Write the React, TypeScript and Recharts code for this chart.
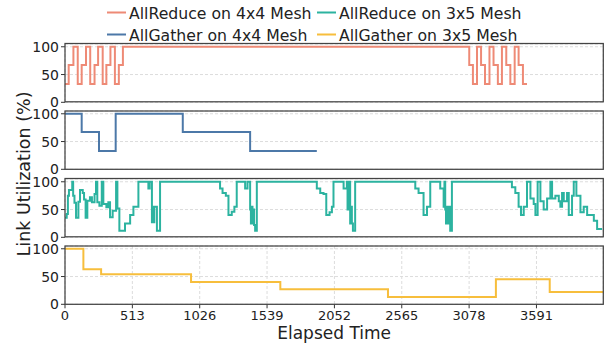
import React from 'react';
import { LineChart, Line, XAxis, YAxis, CartesianGrid } from 'recharts';

const xTicks = [0, 513, 1026, 1539, 2052, 2565, 3078, 3591];
const yTicks = [0, 50, 100];
const X_MAX = 4100;

// AllReduce on 4x4 Mesh
const ar44Time = [0, 28, 64, 97, 127, 160, 192, 225, 252, 287, 315, 346, 380, 410, 441,
  3079, 3107, 3138, 3169, 3199, 3233, 3264, 3297, 3328, 3361, 3392, 3425, 3455, 3488, 3519];
const ar44Util = [33, 67, 100, 33, 67, 100, 33, 67, 100, 33, 67, 100, 33, 67, 100,
  67, 33, 100, 67, 33, 100, 67, 33, 100, 67, 33, 100, 67, 33, 33];

// AllGather on 4x4 Mesh
const ag44Time = [0, 127, 259, 386, 897, 1410, 1918];
const ag44Util = [100, 67, 33, 100, 67, 33, 33];

// AllReduce on 3x5 Mesh
const ar35Time = [0, 13, 22, 30, 55, 62, 72, 84, 102, 114, 135, 145, 157, 170, 190, 205, 225, 236, 246, 262,
  280, 292, 315, 330, 343, 363, 389, 399, 414, 457, 496, 521, 559, 635, 645, 662, 668, 674, 680, 700, 724,
  1181, 1200, 1225, 1245, 1270, 1290, 1308, 1372, 1390, 1410, 1416, 1422, 1428, 1434, 1440, 1448, 1461,
  1918, 1944, 1969, 1990, 2015, 2033, 2045, 2122, 2147, 2152, 2160, 2172, 2178, 2185, 2193, 2210,
  2668, 2693, 2731, 2757, 2782, 2858, 2884, 2890, 2896, 2902, 2909, 2915, 2920, 2934, 2947,
  3404, 3430, 3455, 3473, 3494, 3519, 3545, 3570, 3583, 3600, 3621, 3646, 3672, 3697, 3710, 3735, 3761,
  3773, 3786, 3799, 3824, 3837, 3862, 3875, 3895, 3926, 3951, 3977, 4028, 4053, 4091];
const ar35Util = [35, 42, 75, 85, 100, 75, 62, 35, 64, 85, 80, 68, 35, 66, 72, 63, 78, 100, 63, 57,
  100, 60, 54, 63, 36, 48, 100, 52, 12, 25, 40, 55, 100, 88, 100, 27, 55, 27, 55, 12, 100,
  88, 80, 75, 40, 46, 55, 100, 88, 100, 50, 25, 55, 25, 50, 22, 12, 100,
  88, 80, 78, 40, 45, 55, 100, 88, 100, 50, 100, 25, 55, 25, 12, 100,
  88, 80, 40, 55, 100, 88, 55, 100, 50, 25, 55, 25, 55, 12, 100,
  90, 80, 55, 40, 55, 100, 70, 60, 40, 100, 65, 50, 70, 100, 70, 75, 65,
  55, 80, 65, 80, 40, 75, 100, 75, 45, 55, 40, 30, 15, 15];

// AllGather on 3x5 Mesh
const ag35Time = [0, 140, 275, 960, 1640, 2460, 3282, 3692, 4100];
const ag35Util = [100, 63, 54, 40, 27, 13, 45, 22, 22];

const toRows = (t: number[], v: number[]) => t.map((x, i) => ({ t: x, v: v[i] }));

const FONT = 'DejaVu Sans, sans-serif';
const PLOT_LEFT = 65;
const PLOT_RIGHT = 603.3;
const PLOT_H = 58.3;
const PAD = 4;

const panels = [
  { name: 'AllReduce on 4x4 Mesh', color: '#EE8A76', rows: toRows(ar44Time, ar44Util), top: 43.5 },
  { name: 'AllGather on 4x4 Mesh', color: '#4C78A8', rows: toRows(ag44Time, ag44Util), top: 111 },
  { name: 'AllReduce on 3x5 Mesh', color: '#2CB3A0', rows: toRows(ar35Time, ar35Util), top: 178.5 },
  { name: 'AllGather on 3x5 Mesh', color: '#F7BE3C', rows: toRows(ag35Time, ag35Util), top: 246 },
];

const legendItems = [
  { i: 0, x: 107, y: 12.5 },
  { i: 2, x: 317, y: 12.5 },
  { i: 1, x: 107, y: 34.5 },
  { i: 3, x: 317, y: 34.5 },
];

function Panel(props: { rows: { t: number; v: number }[]; color: string; top: number; showLabels: boolean }) {
  // upper panels get a taller (empty) axis band so the "0" tick label is not clipped
  const axisH = props.showLabels ? 22 : 12;
  const h = PAD + PLOT_H + axisH;
  return (
    <div style={{ position: 'absolute', left: 0, top: props.top - PAD }}>
      <LineChart
        width={611}
        height={h}
        data={props.rows}
        margin={{ top: PAD, right: 611 - PLOT_RIGHT, bottom: 0, left: 0 }}
      >
        <CartesianGrid stroke="#dcdcdc" strokeDasharray="3 2" />
        <XAxis
          dataKey="t"
          type="number"
          domain={[0, X_MAX]}
          ticks={xTicks}
          interval={0}
          allowDataOverflow
          axisLine={false}
          tickLine={{ stroke: '#333' }}
          tickSize={4}
          tickMargin={2}
          height={axisH}
          tick={props.showLabels ? { fill: '#222', fontSize: 13, fontFamily: FONT } : false}
        />
        <YAxis
          type="number"
          domain={[0, 105]}
          ticks={yTicks}
          interval={0}
          width={PLOT_LEFT}
          axisLine={false}
          tickLine={{ stroke: '#333' }}
          tickSize={4}
          tickMargin={2}
          tick={{ fill: '#222', fontSize: 14, fontFamily: FONT }}
        />
        <Line
          type="stepAfter"
          dataKey="v"
          stroke={props.color}
          strokeWidth={2}
          dot={false}
          isAnimationActive={false}
        />
      </LineChart>
    </div>
  );
}

export default function App() {
  return (
    <div style={{ position: 'absolute', left: 0, top: 0, width: 611, height: 345, background: '#fff', fontFamily: FONT, color: '#222' }}>
      {panels.map((p, i) => (
        <Panel key={p.name} rows={p.rows} color={p.color} top={p.top} showLabels={i === panels.length - 1} />
      ))}
      <svg width={611} height={345} style={{ position: 'absolute', left: 0, top: 0, pointerEvents: 'none' }}>
        {panels.map((p) => (
          <rect
            key={p.name}
            x={PLOT_LEFT}
            y={p.top}
            width={PLOT_RIGHT - PLOT_LEFT}
            height={PLOT_H}
            fill="none"
            stroke="#444"
            strokeWidth={1.25}
          />
        ))}
      </svg>
      {legendItems.map((l) => (
        <div
          key={l.i}
          style={{ position: 'absolute', left: l.x, top: l.y, transform: 'translateY(-50%)', display: 'flex', alignItems: 'center', whiteSpace: 'nowrap', fontSize: 15.7 }}
        >
          <span style={{ display: 'inline-block', width: 19, height: 2.5, background: panels[l.i].color, marginRight: 3 }} />
          {panels[l.i].name}
        </div>
      ))}
      <div style={{ position: 'absolute', left: 24, top: 174, transform: 'translate(-50%, -50%) rotate(-90deg)', whiteSpace: 'nowrap', fontSize: 17.5 }}>
        Link Utilization (%)
      </div>
      <div style={{ position: 'absolute', left: (PLOT_LEFT + PLOT_RIGHT) / 2, top: 333, transform: 'translate(-50%, -50%)', whiteSpace: 'nowrap', fontSize: 17 }}>
        Elapsed Time
      </div>
    </div>
  );
}
